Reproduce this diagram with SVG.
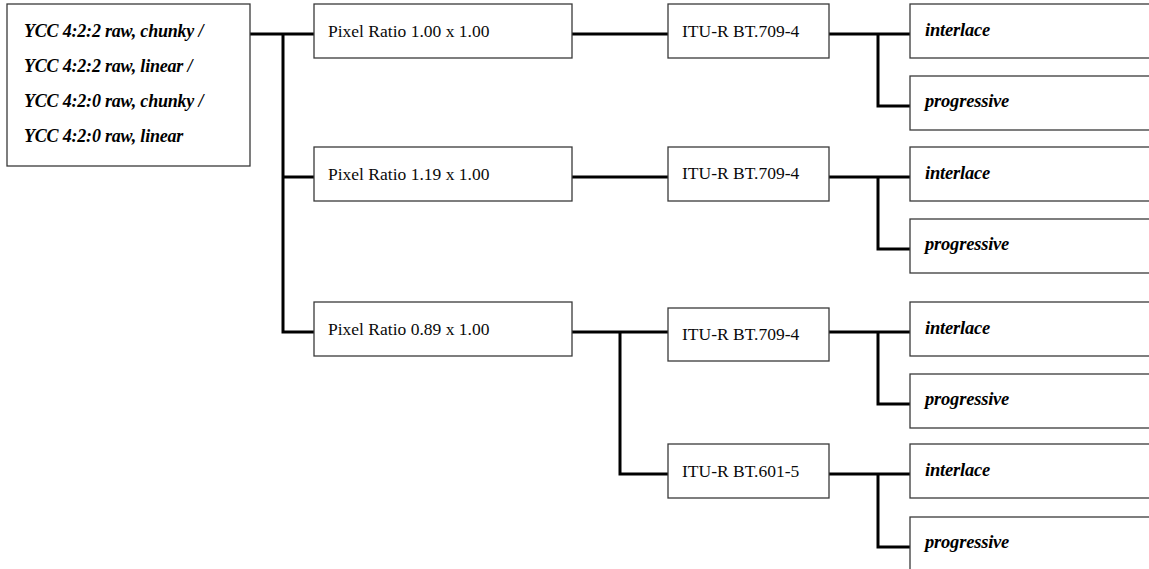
<svg xmlns="http://www.w3.org/2000/svg" width="1149" height="569" viewBox="0 0 1149 569">
  <style>
    .box { fill: #ffffff; stroke: #3a3a3a; stroke-width: 1.3; }
    .wire { fill: none; stroke: #000000; stroke-width: 3; stroke-linejoin: miter; stroke-linecap: butt; }
    .lbl { font-family: "Liberation Serif", "Times New Roman", serif; font-size: 17.5px; fill: #0a0a0a; }
    .em { font-family: "Liberation Serif", "Times New Roman", serif; font-size: 18.5px; font-weight: bold; font-style: italic; fill: #000000; letter-spacing: -0.2px; }
    .src { font-size: 18px; }
  </style>
  <rect width="1149" height="569" fill="#ffffff"/>

  <!-- connectors -->
  <g id="connectors">
    <!-- source to pixel ratios -->
    <path class="wire" d="M250 34 H314"/>
    <path class="wire" d="M283 34 V332 H314"/>
    <path class="wire" d="M283 177 H314"/>
    <!-- pixel ratios to colour standards -->
    <path class="wire" d="M572 34 H668"/>
    <path class="wire" d="M572 177 H668"/>
    <path class="wire" d="M572 332 H668"/>
    <path class="wire" d="M620 332 V474 H668"/>
    <!-- colour standards to scan modes -->
    <path class="wire" d="M829 34 H910"/>
    <path class="wire" d="M878 34 V106 H910"/>
    <path class="wire" d="M829 177 H910"/>
    <path class="wire" d="M878 177 V249 H910"/>
    <path class="wire" d="M829 332 H910"/>
    <path class="wire" d="M878 332 V404 H910"/>
    <path class="wire" d="M829 474 H910"/>
    <path class="wire" d="M878 474 V547 H910"/>
  </g>

  <!-- source formats -->
  <g id="formats">
    <rect class="box" x="7" y="4" width="243" height="162"/>
    <text class="em src" x="24" y="37">YCC 4:2:2 raw, chunky /</text>
    <text class="em src" x="24" y="72">YCC 4:2:2 raw, linear /</text>
    <text class="em src" x="24" y="107">YCC 4:2:0 raw, chunky /</text>
    <text class="em src" x="24" y="142">YCC 4:2:0 raw, linear</text>
  </g>

  <!-- pixel ratios -->
  <g id="ratio-100">
    <rect class="box" x="314" y="4" width="258" height="54"/>
    <text class="lbl" x="328" y="37">Pixel Ratio 1.00 x 1.00</text>
  </g>
  <g id="ratio-119">
    <rect class="box" x="314" y="147" width="258" height="54"/>
    <text class="lbl" x="328" y="180">Pixel Ratio 1.19 x 1.00</text>
  </g>
  <g id="ratio-089">
    <rect class="box" x="314" y="302" width="258" height="54"/>
    <text class="lbl" x="328" y="335">Pixel Ratio 0.89 x 1.00</text>
  </g>

  <!-- colour standards -->
  <g id="bt709-a">
    <rect class="box" x="668" y="4" width="161" height="54"/>
    <text class="lbl" x="682" y="37">ITU-R BT.709-4</text>
  </g>
  <g id="bt709-b">
    <rect class="box" x="668" y="147" width="161" height="54"/>
    <text class="lbl" x="682" y="179">ITU-R BT.709-4</text>
  </g>
  <g id="bt709-c">
    <rect class="box" x="668" y="308" width="161" height="53"/>
    <text class="lbl" x="682" y="340">ITU-R BT.709-4</text>
  </g>
  <g id="bt601">
    <rect class="box" x="668" y="444" width="161" height="54"/>
    <text class="lbl" x="682" y="477">ITU-R BT.601-5</text>
  </g>

  <!-- scan modes -->
  <g id="interlace-a">
    <rect class="box" x="910" y="4" width="260" height="54"/>
    <text class="em" x="925" y="36">interlace</text>
  </g>
  <g id="progressive-a">
    <rect class="box" x="910" y="76" width="260" height="54"/>
    <text class="em" x="925" y="107">progressive</text>
  </g>
  <g id="interlace-b">
    <rect class="box" x="910" y="147" width="260" height="54"/>
    <text class="em" x="925" y="179">interlace</text>
  </g>
  <g id="progressive-b">
    <rect class="box" x="910" y="219" width="260" height="54"/>
    <text class="em" x="925" y="250">progressive</text>
  </g>
  <g id="interlace-c">
    <rect class="box" x="910" y="302" width="260" height="54"/>
    <text class="em" x="925" y="334">interlace</text>
  </g>
  <g id="progressive-c">
    <rect class="box" x="910" y="374" width="260" height="54"/>
    <text class="em" x="925" y="405">progressive</text>
  </g>
  <g id="interlace-d">
    <rect class="box" x="910" y="444" width="260" height="54"/>
    <text class="em" x="925" y="476">interlace</text>
  </g>
  <g id="progressive-d">
    <rect class="box" x="910" y="517" width="260" height="60"/>
    <text class="em" x="925" y="548">progressive</text>
  </g>
</svg>
